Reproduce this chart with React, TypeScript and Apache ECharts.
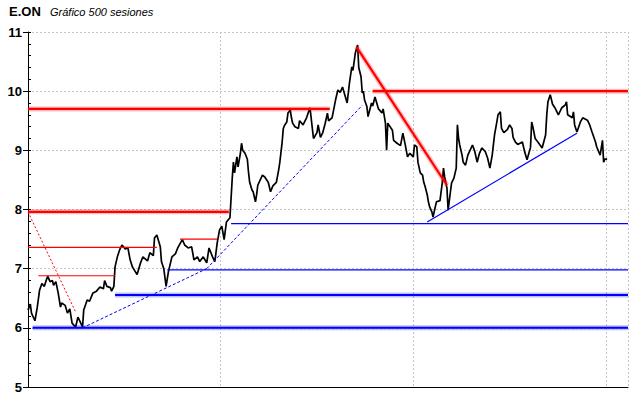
import React, { useEffect, useRef } from "react";
import * as echarts from "echarts";

// Session index (0..499) and closing price
const sessions = [
  0, 2, 3, 6, 8, 10, 12, 14, 16, 17, 19, 21, 22, 24, 26, 28, 29, 32, 34, 36, 38, 41, 43, 45, 47, 48, 51, 53, 56, 59,
  62, 65, 66, 68, 71, 72, 74, 75, 77, 79, 81, 84, 86, 88, 90, 94, 97, 99, 103, 105, 108, 109, 111, 114, 115, 117, 119,
  121, 124, 127, 129, 133, 135, 138, 141, 143, 146, 148, 151, 154, 156, 159, 161, 163, 165, 167, 169, 171, 174, 176,
  177, 178, 180, 181, 183, 184, 185, 187, 189, 190, 191, 193, 194, 196, 197, 198, 202, 204, 207, 209, 211, 214, 216,
  217, 219, 220, 221, 223, 224, 226, 227, 228, 230, 233, 234, 237, 240, 243, 245, 246, 249, 250, 252, 254, 256, 258,
  259, 262, 265, 267, 269, 271, 275, 277, 279, 280, 282, 284, 285, 287, 288, 289, 290, 292, 293, 296, 297, 299, 302,
  305, 306, 308, 309, 310, 314, 315, 318, 321, 323, 325, 327, 329, 332, 333, 335, 336, 338, 340, 341, 342, 344, 345,
  346, 348, 349, 351, 352, 355, 357, 358, 359, 361, 362, 364, 365, 367, 369, 370, 371, 372, 374, 375, 377, 379, 383,
  385, 387, 389, 391, 394, 396, 398, 400, 402, 404, 405, 407, 408, 410, 413, 415, 417, 418, 420, 422, 426, 428, 430,
  433, 434, 435, 437, 439, 443, 446, 447, 448, 450, 452, 454, 457, 460, 463, 464, 465, 469, 470, 471, 473, 476, 478,
  482, 484, 486, 489, 490, 493, 495, 496, 497, 499,
];
const closes = [
  6.3, 6.4, 6.25, 6.12, 6.35, 6.64, 6.75, 6.7, 6.82, 6.87, 6.78, 6.8, 6.72, 6.78, 6.59, 6.35, 6.42, 6.38, 6.25, 6.32,
  6.08, 6.01, 6.18, 6.1, 6.01, 6.3, 6.47, 6.45, 6.59, 6.62, 6.69, 6.66, 6.8, 6.7, 6.68, 6.62, 6.7, 7.03, 7.2, 7.32,
  7.4, 7.33, 7.36, 7.15, 7.03, 6.9, 7.1, 7.2, 7.13, 7.27, 7.22, 7.52, 7.57, 7.37, 7.12, 7.0, 6.7, 6.95, 7.2, 7.25,
  7.35, 7.49, 7.4, 7.35, 7.37, 7.15, 7.2, 7.12, 7.2, 7.1, 7.35, 7.2, 7.12, 7.43, 7.65, 7.72, 7.49, 7.79, 7.86, 8.53,
  8.8, 8.62, 8.89, 8.72, 8.95, 9.12, 9.0, 8.95, 8.85, 8.63, 8.46, 8.33, 8.3, 8.13, 8.25, 8.41, 8.58, 8.55, 8.46, 8.3,
  8.4, 8.46, 8.67, 8.8, 9.14, 9.37, 9.42, 9.48, 9.63, 9.68, 9.55, 9.46, 9.4, 9.37, 9.5, 9.43, 9.55, 9.72, 9.37, 9.2,
  9.3, 9.43, 9.22, 9.3, 9.45, 9.63, 9.5, 9.55, 9.85, 10.02, 9.98, 10.07, 9.8, 10.14, 10.41, 10.35, 10.64, 10.78, 10.4,
  10.24, 9.97, 10.0, 9.85, 9.74, 9.57, 9.8, 9.75, 9.9, 9.7, 9.63, 9.7, 9.46, 9.0, 9.46, 9.34, 9.17, 9.12, 9.08, 9.29,
  9.1, 8.89, 8.95, 8.89, 9.09, 9.06, 8.8, 8.62, 8.58, 8.46, 8.4, 8.25, 8.13, 8.05, 7.96, 7.87, 8.05, 8.13, 8.15, 8.46,
  8.7, 8.55, 8.36, 7.99, 8.3, 8.45, 8.53, 8.7, 9.43, 9.2, 9.09, 8.92, 8.8, 8.75, 8.92, 9.09, 8.98, 8.8, 8.95, 9.04,
  8.98, 8.87, 8.7, 8.92, 9.26, 9.48, 9.6, 9.65, 9.37, 9.3, 9.35, 9.43, 9.37, 9.22, 9.14, 9.1, 9.14, 8.97, 8.84, 9.05,
  9.48, 9.4, 9.2, 9.15, 9.04, 9.26, 9.6, 9.82, 9.94, 9.78, 9.72, 9.6, 9.72, 9.77, 9.82, 9.6, 9.55, 9.65, 9.43, 9.31,
  9.48, 9.55, 9.51, 9.43, 9.31, 9.14, 9.06, 8.92, 9.17, 8.8, 8.85, 8.85,
];

const X_MAX = 517;
const X_GRID_STEP = 166;
const Y_MIN = 5;
const Y_MAX = 11;

// Trend / support / resistance lines: [session0, price0, session1, price1]
const redThick = [
  [0, 9.7, 260, 9.7],
  [0, 7.96, 173, 7.96],
  [297, 10.0, X_MAX, 10.0],
  [283, 10.75, 361, 8.41],
];
const redThin = [
  [0, 7.36, 111, 7.36],
  [9, 6.88, 75, 6.88],
  [131, 7.5, 163, 7.5],
];
const redDashed = [[0, 7.96, 41, 6.27]];
const blueThick = [
  [4, 6.0, X_MAX, 6.0],
  [75, 6.555, X_MAX, 6.555],
];
const blueThin = [
  [120, 6.98, X_MAX, 6.98],
  [175, 7.76, X_MAX, 7.76],
  [344, 7.79, 473, 9.29],
];
const blueDashed = [
  [47, 6.0, 154, 7.0],
  [154, 7.0, 288, 9.76],
];

const FONT = "'Liberation Sans', Arial, sans-serif";

function segs(list: number[][], lineStyle: any, z: number) {
  return list.map((l) => ({
    type: "line",
    data: [
      [l[0], l[1]],
      [l[2], l[3]],
    ],
    symbol: "none",
    silent: true,
    z,
    lineStyle,
  }));
}

export default function App() {
  const ref = useRef<HTMLDivElement>(null);
  useEffect(() => {
    if (!ref.current) return;
    const chart = echarts.init(ref.current, undefined, { renderer: "svg" });
    const price = sessions.map((s, i) => [s, closes[i]]);
    chart.setOption({
      animation: false,
      backgroundColor: "#ffffff",
      grid: { left: 28, right: 12, top: 32, bottom: 11 },
      graphic: [
        {
          type: "text",
          left: 9,
          top: 5,
          style: { text: "E.ON", font: `bold 13px ${FONT}`, fill: "#000" },
        },
        {
          type: "text",
          left: 50,
          top: 6,
          style: { text: "Gráfico 500 sesiones", font: `italic 11px ${FONT}`, fill: "#000" },
        },
      ],
      xAxis: {
        type: "value",
        min: 0,
        max: X_MAX,
        interval: X_GRID_STEP,
        axisLine: { show: true, onZero: false, lineStyle: { color: "#000", width: 1 } },
        axisTick: { show: false },
        axisLabel: { show: false },
        splitLine: { show: true, lineStyle: { color: "#c4c4cc", type: [2, 2], width: 1 } },
      },
      yAxis: [
        {
          type: "value",
          min: Y_MIN,
          max: Y_MAX,
          interval: 1,
          axisLine: { show: true, lineStyle: { color: "#000", width: 1 } },
          axisTick: { show: true, length: 5, lineStyle: { color: "#000" } },
          axisLabel: {
            show: true,
            margin: 6,
            color: "#000",
            fontWeight: "bold",
            fontSize: 13,
            fontFamily: FONT,
          },
          splitLine: { show: true, lineStyle: { color: "#c4c4cc", type: [2, 2], width: 1 } },
        },
        {
          type: "value",
          min: Y_MIN,
          max: Y_MAX,
          interval: 0.2,
          position: "left",
          axisLine: { show: false },
          axisTick: { show: true, inside: true, length: 3, lineStyle: { color: "#000" } },
          axisLabel: { show: false },
          splitLine: { show: false },
        },
      ],
      series: [
        {
          type: "line",
          data: price,
          symbol: "none",
          z: 3,
          lineStyle: { color: "#000", width: 1.7 },
        },
        ...segs(redThick, { color: "rgba(255,0,0,0.25)", width: 5 }, 4),
        ...segs(redThick, { color: "#ff0000", width: 2.2 }, 5),
        ...segs(blueThick, { color: "rgba(0,0,255,0.25)", width: 5 }, 4),
        ...segs(blueThick, { color: "#0000ff", width: 2 }, 5),
        ...segs(redThin, { color: "#ff0000", width: 1.2 }, 5),
        ...segs(blueThin, { color: "#0000ff", width: 1.2 }, 5),
        ...segs(redDashed, { color: "#ff0000", width: 1, type: [2, 2] }, 5),
        ...segs(blueDashed, { color: "#0000ff", width: 1, type: [3, 2] }, 5),
      ],
    });
    return () => chart.dispose();
  }, []);
  return <div ref={ref} style={{ width: 640, height: 398, position: "absolute", left: 0, top: 0 }} />;
}
